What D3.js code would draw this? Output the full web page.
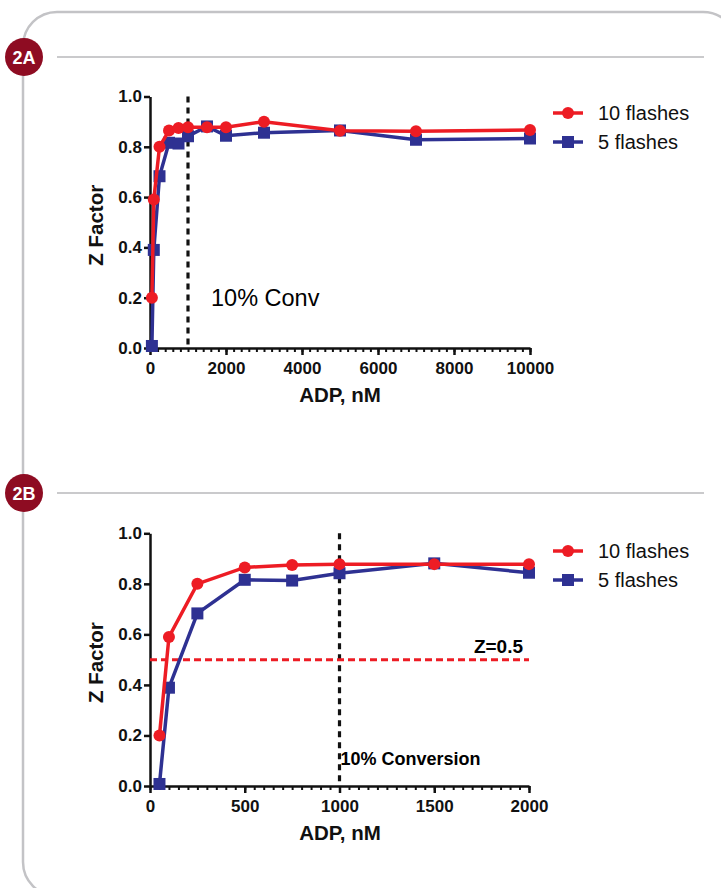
<!DOCTYPE html>
<html lang="en">
<head>
    <meta charset="UTF-8">
    <title>Z Factor vs ADP</title>
    <script src="https://d3js.org/d3.v7.min.js"></script>
    <style>
        body { margin: 0; background: #fff; }
        svg { display: block; font-family: "Liberation Sans", Arial, sans-serif; }
        .tick-label { font-size: 17px; font-weight: bold; fill: #111; }
        .axis-title { font-size: 20.5px; font-weight: bold; fill: #111; }
        .legend-text { font-size: 20px; fill: #111; }
    </style>
</head>
<body>
<script>
    // data: ADP concentration (nM) and Z factor
    const adpA = [50, 100, 250, 500, 750, 1000, 1500, 2000, 3000, 5000, 7000, 10000];
    const flash10A = [0.20, 0.59, 0.80, 0.865, 0.875, 0.878, 0.878, 0.878, 0.90, 0.864, 0.862, 0.867];
    const flash5A = [0.008, 0.39, 0.683, 0.816, 0.813, 0.842, 0.881, 0.844, 0.856, 0.865, 0.828, 0.833];

    const adpB = [50, 100, 250, 500, 750, 1000, 1500, 2000];
    const flash10B = [0.20, 0.59, 0.80, 0.865, 0.875, 0.878, 0.878, 0.878];
    const flash5B = [0.008, 0.389, 0.683, 0.816, 0.813, 0.842, 0.881, 0.844];

    const yTicks = [0, 0.2, 0.4, 0.6, 0.8, 1.0];
    const xTicksA = [0, 2000, 4000, 6000, 8000, 10000];
    const xTicksB = [0, 500, 1000, 1500, 2000];
    const seriesNames = ["10 flashes", "5 flashes"];

    const RED = "#ed1c24", BLUE = "#2e3192";

    const svg = d3.select("body").append("svg")
        .attr("width", 721)
        .attr("height", 888);

    // outer frame with rounded corners
    svg.append("rect")
        .attr("x", 23).attr("y", 12)
        .attr("width", 714).attr("height", 884)
        .attr("rx", 34).attr("ry", 34)
        .attr("fill", "none")
        .attr("stroke", "#c3c3c6")
        .attr("stroke-width", 2.5);

    // panel headers
    function badge(label, cy) {
        svg.append("line")
            .attr("x1", 57).attr("x2", 704)
            .attr("y1", cy).attr("y2", cy)
            .attr("stroke", "#b8b8bb").attr("stroke-width", 1.5);
        svg.append("circle")
            .attr("cx", 24).attr("cy", cy).attr("r", 19)
            .attr("fill", "#8e0c22");
        svg.append("text")
            .attr("x", 24).attr("y", cy + 6.5)
            .attr("text-anchor", "middle")
            .attr("fill", "#fff")
            .style("font-size", "18px").style("font-weight", "bold")
            .text(label);
    }
    badge("2A", 57);
    badge("2B", 493);

    function drawChart(o) {
        const x = d3.scaleLinear().domain([0, o.xMax]).range([o.left, o.right]);
        const y = d3.scaleLinear().domain([0, 1]).range([o.bottom, o.top]);
        const g = svg.append("g");

        // x axis (minor ticks, then major ticks + labels)
        g.append("g")
            .attr("transform", `translate(0,${o.bottom})`)
            .call(d3.axisBottom(x).tickValues(d3.range(0, o.xMax + 1, o.minor)).tickSize(4).tickFormat(""))
            .call(a => a.select(".domain").remove())
            .call(a => a.selectAll("line").attr("stroke", "#111").attr("stroke-width", 2));
        g.append("g")
            .attr("transform", `translate(0,${o.bottom})`)
            .call(d3.axisBottom(x).tickValues(o.xTicks).tickSize(7).tickSizeOuter(0).tickPadding(7).tickFormat(d3.format("d")))
            .call(a => a.select(".domain").attr("stroke", "#111").attr("stroke-width", 2.5))
            .call(a => a.selectAll("line").attr("stroke", "#111").attr("stroke-width", 2.5))
            .call(a => a.selectAll("text").attr("class", "tick-label").attr("font-family", null).attr("font-size", null));

        // y axis
        g.append("g")
            .attr("transform", `translate(${o.left},0)`)
            .call(d3.axisLeft(y).tickValues(yTicks).tickSize(6).tickSizeOuter(0).tickPadding(2).tickFormat(d3.format(".1f")))
            .call(a => a.select(".domain").attr("stroke", "#111").attr("stroke-width", 2.5))
            .call(a => a.selectAll("line").attr("stroke", "#111").attr("stroke-width", 2.5))
            .call(a => a.selectAll("text").attr("class", "tick-label").attr("font-family", null).attr("font-size", null));

        g.append("text")
            .attr("class", "axis-title")
            .attr("x", 340)
            .attr("y", o.bottom + 54)
            .attr("text-anchor", "middle")
            .text("ADP, nM");
        g.append("text")
            .attr("class", "axis-title")
            .attr("transform", `translate(103,${(o.top + o.bottom) / 2 + 3}) rotate(-90)`)
            .attr("text-anchor", "middle")
            .text("Z Factor");

        // reference lines
        g.append("line")
            .attr("x1", x(1000)).attr("x2", x(1000))
            .attr("y1", o.top).attr("y2", o.bottom)
            .attr("stroke", "#111").attr("stroke-width", 3.2)
            .attr("stroke-dasharray", "6,5");
        if (o.zLine) {
            g.append("line")
                .attr("x1", o.left).attr("x2", o.right)
                .attr("y1", y(0.5)).attr("y2", y(0.5))
                .attr("stroke", RED).attr("stroke-width", 3)
                .attr("stroke-dasharray", "7,4");
            g.append("text")
                .attr("x", o.right - 6).attr("y", y(0.5) - 7)
                .attr("text-anchor", "end")
                .style("font-size", "19px").style("font-weight", "bold")
                .text("Z=0.5");
        }
        o.annot(g, x, y);

        // series
        const line = d3.line().x(d => x(d[0])).y(d => y(d[1]));
        const blue = o.xs.map((v, i) => [v, o.s5[i]]);
        const red = o.xs.map((v, i) => [v, o.s10[i]]);

        g.append("path").datum(blue)
            .attr("fill", "none").attr("stroke", BLUE).attr("stroke-width", 3.5)
            .attr("d", line);
        g.selectAll(".sq").data(blue).enter().append("rect")
            .attr("x", d => x(d[0]) - 6).attr("y", d => y(d[1]) - 6)
            .attr("width", 12).attr("height", 12)
            .attr("fill", BLUE);

        g.append("path").datum(red)
            .attr("fill", "none").attr("stroke", RED).attr("stroke-width", 3.5)
            .attr("d", line);
        g.selectAll(".dot").data(red).enter().append("circle")
            .attr("cx", d => x(d[0])).attr("cy", d => y(d[1])).attr("r", 6)
            .attr("fill", RED);

        // legend
        const lg = g.append("g").attr("transform", `translate(553,${o.legendY})`);
        seriesNames.forEach((name, i) => {
            const ly = i * 29;
            const col = i === 0 ? RED : BLUE;
            lg.append("line").attr("x1", 0).attr("x2", 30).attr("y1", ly).attr("y2", ly)
                .attr("stroke", col).attr("stroke-width", 3.5);
            if (i === 0) {
                lg.append("circle").attr("cx", 15).attr("cy", ly).attr("r", 6).attr("fill", col);
            } else {
                lg.append("rect").attr("x", 9).attr("y", ly - 6).attr("width", 12).attr("height", 12).attr("fill", col);
            }
            lg.append("text").attr("class", "legend-text")
                .attr("x", 45).attr("y", ly + 7)
                .text(name);
        });
    }

    drawChart({
        xs: adpA, s10: flash10A, s5: flash5A,
        xMax: 10000, minor: 200, xTicks: xTicksA,
        left: 150, right: 530, top: 96.5, bottom: 348,
        legendY: 113,
        annot: (g, x, y) => {
            g.append("text")
                .attr("x", 211).attr("y", 306)
                .style("font-size", "23.5px")
                .text("10% Conv");
        }
    });

    drawChart({
        xs: adpB, s10: flash10B, s5: flash5B,
        xMax: 2000, minor: 50, xTicks: xTicksB,
        left: 150, right: 529, top: 533.3, bottom: 786,
        legendY: 551, zLine: true,
        annot: (g, x, y) => {
            g.append("text")
                .attr("x", x(1000) + 1).attr("y", 765)
                .style("font-size", "18px").style("font-weight", "bold")
                .text("10% Conversion");
        }
    });
</script>
</body>
</html>
